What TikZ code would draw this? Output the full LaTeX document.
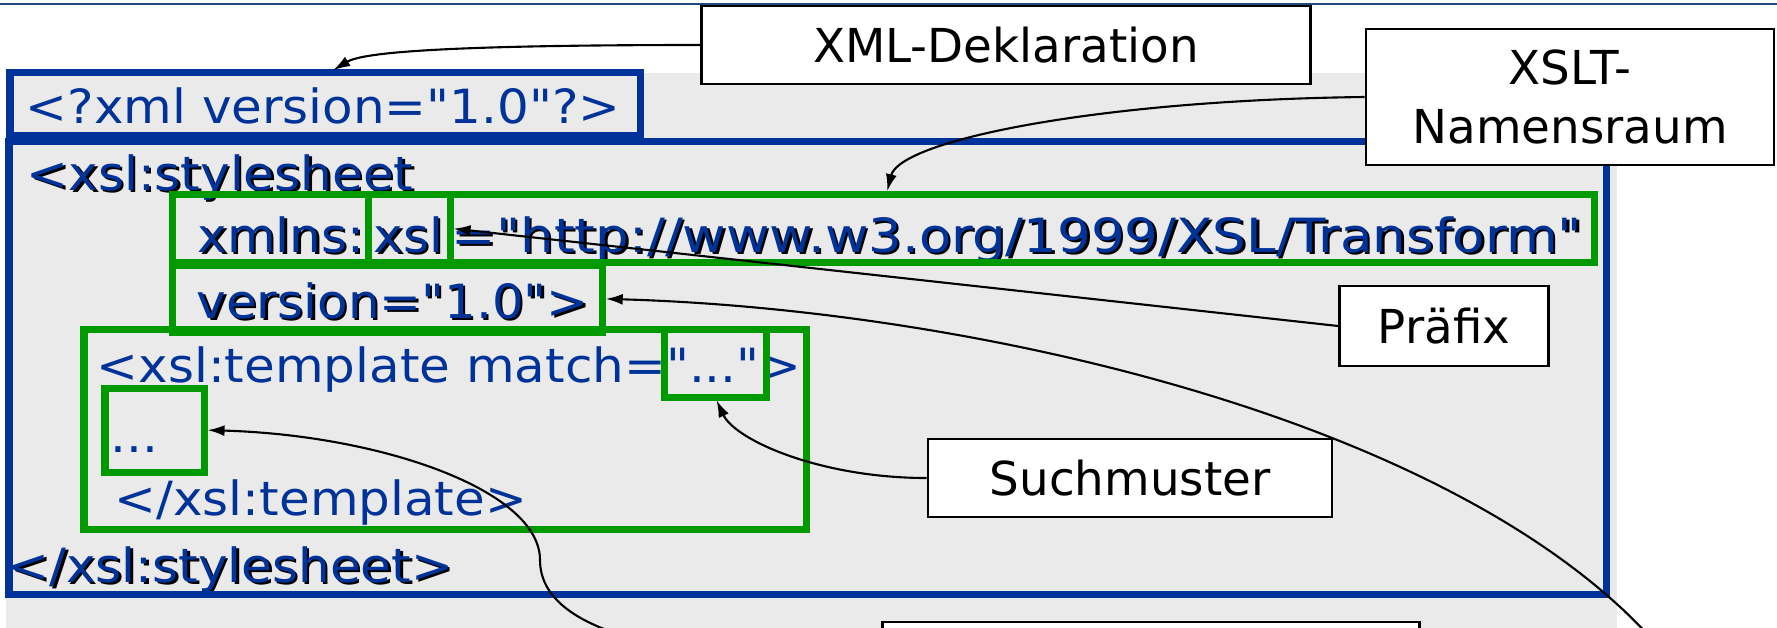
\documentclass[tikz,border=0pt]{standalone}
\usepackage{fontspec}
\usetikzlibrary{arrows.meta}
\definecolor{codeblau}{RGB}{0,51,153}
\definecolor{gruen}{RGB}{0,153,0}
\definecolor{hintergrund}{RGB}{234,234,234}
\definecolor{kopfblau}{RGB}{31,73,125}
\newfontfamily\codefont[FakeStretch=1.06]{DejaVu Sans}
\newfontfamily\urlfont[FakeStretch=1.125]{DejaVu Sans}
\newfontfamily\labelfont{DejaVu Sans}
\newcommand{\schatten}[1]{\rlap{\kern0.7pt\raisebox{-0.7pt}{\color{black}#1}}#1}
\tikzset{
  codetext/.style={font=\codefont\fontsize{13.4pt}{16pt}\selectfont, text=codeblau, anchor=base west, inner sep=0pt},
  blaurahmen/.style={draw=codeblau, line width=0.07cm, inner sep=0pt, outer sep=0pt, anchor=north west},
  gruenrahmen/.style={draw=gruen, line width=0.07cm, inner sep=0pt, outer sep=0pt, anchor=north west},
  beschriftung/.style={draw=black, fill=white, line width=0.025cm, inner sep=0pt, font=\labelfont\fontsize{13.3pt}{16.6pt}\selectfont},
  pfeil/.style={-{Latex[length=0.17cm,width=0.11cm]}, line width=0.6pt, shorten >=0.035cm},
  kopflinie/.style={draw=kopfblau, line width=0.02cm}
}

\begin{document}
\begin{tikzpicture}[x=0.01cm, y=-0.01cm]
  \useasboundingbox (0,0) rectangle (1777,627);
  \clip (0,0) rectangle (1777,627);
  \draw[kopflinie] (0,4) -- (1777,4);
  \fill[hintergrund] (6,73) rectangle (1617,640);

  % Quelltext
  \node[codetext] (xmltext) at (25,123) {<?xml version="1.0"?>};
  \node[codetext] (stylesheetauf) at (26,190) {\schatten{<xsl:stylesheet}};
  \node[codetext] (xmlnstext) at (197,252) {\schatten{xmlns:}};
  \node[codetext] (xsltext) at (373,252) {\schatten{xsl}};
  \node[codetext, font=\urlfont\fontsize{13.4pt}{16pt}\selectfont] (urltext) at (451,252) {\schatten{="http://www.w3.org/1999/XSL/Transform"}};
  \node[codetext] (versiontext) at (196,318) {\schatten{version="1.0">}};
  \node[codetext] (templateauf) at (96,382) {<xsl:template match="...">};
  \node[codetext] (inhalttext) at (110,452) {...};
  \node[codetext] (templatezu) at (114,515) {</xsl:template>};
  \node[codetext] (stylesheetzu) at (7,582) {\schatten{</xsl:stylesheet>}};

  % Rahmen
  \node[blaurahmen, minimum width=6.30cm, minimum height=0.63cm] (xmldecl) at (10,72) {};
  \node[blaurahmen, minimum width=15.97cm, minimum height=4.53cm] (stylesheet) at (9,141) {};
  \node[gruenrahmen, minimum width=1.96cm, minimum height=0.675cm] (xmlnsrahmen) at (172,194.5) {};
  \node[gruenrahmen, minimum width=0.82cm, minimum height=0.675cm] (xslrahmen) at (368,194.5) {};
  \node[gruenrahmen, minimum width=11.435cm, minimum height=0.675cm] (urlrahmen) at (450,194.5) {};
  \node[gruenrahmen, minimum width=4.30cm, minimum height=0.675cm] (versionrahmen) at (172,265) {};
  \node[gruenrahmen, minimum width=7.22cm, minimum height=2.00cm] (templaterahmen) at (84,329) {};
  \node[gruenrahmen, minimum width=1.02cm, minimum height=0.68cm] (matchrahmen) at (664,329) {};
  \node[gruenrahmen, minimum width=0.99cm, minimum height=0.84cm] (inhaltrahmen) at (105,388) {};

  % Beschriftungen
  \node[beschriftung, minimum width=6.09cm, minimum height=0.78cm] (deklaration) at (1006,45) {XML-Deklaration};
  \node[beschriftung, minimum width=4.08cm, minimum height=1.36cm, align=center] (namensraum) at (1570,97) {XSLT-\\Namensraum};
  \node[beschriftung, minimum width=2.09cm, minimum height=0.80cm] (praefix) at (1444,326) {Präfix};
  \node[beschriftung, minimum width=4.04cm, minimum height=0.78cm] (suchmuster) at (1130,478) {Suchmuster};
  \node[beschriftung, minimum width=5.37cm, minimum height=0.80cm] (unten) at (1151,662) {};
  \coordinate (versionstart) at (1710,720);
  \coordinate (umweg) at (540,560);

  % Pfeile
  \draw[pfeil] (deklaration.west) .. controls (420,45) and (360,54) .. ([xshift=0.05cm]xmldecl.north);
  \draw[pfeil] (namensraum.west) .. controls (1100,100) and (900,140) .. ([xshift=-1.357cm]urlrahmen.north);
  \draw[pfeil] (praefix.west) -- (xslrahmen.east);
  \draw[pfeil] (versionstart) .. controls (1560,440) and (1000,310) .. (versionrahmen.east);
  \draw[pfeil] (suchmuster.west) .. controls (820,478) and (735,440) .. (matchrahmen.south);
  \draw[pfeil] (unten.west) .. controls (700,662) and (540,640) .. (umweg) .. controls (540,490) and (380,435) .. (inhaltrahmen.east);
\end{tikzpicture}
\end{document}
